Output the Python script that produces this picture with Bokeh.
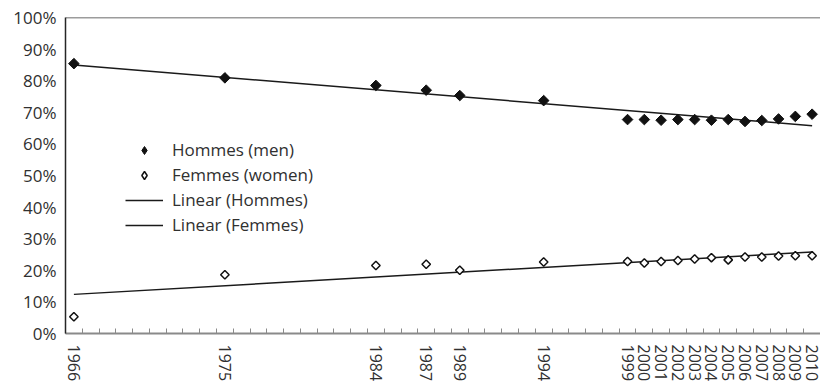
import numpy as np
from bokeh.plotting import figure
from bokeh.models import (FixedTicker, PrintfTickFormatter, Range1d, Span,
                          Legend, LegendItem, BasicTickFormatter)
from bokeh.embed import file_html
from bokeh.resources import INLINE

# Survey years and shares (%) for men and women
years = [1966, 1975, 1984, 1987, 1989, 1994, 1999, 2000, 2001, 2002,
         2003, 2004, 2005, 2006, 2007, 2008, 2009, 2010]
hommes = [85.4, 80.9, 78.5, 77.0, 75.3, 73.7, 67.7, 67.7, 67.5, 67.7,
          67.7, 67.5, 67.7, 67.1, 67.4, 67.9, 68.7, 69.4]
femmes = [5.3, 18.6, 21.5, 21.9, 20.0, 22.6, 22.8, 22.3, 22.8, 23.1,
          23.6, 24.0, 23.3, 24.2, 24.2, 24.5, 24.6, 24.6]
y_ticks = [0, 10, 20, 30, 40, 50, 60, 70, 80, 90, 100]

FONT = "Open Sans"
TXT = "#303030"
INK = "#111111"

first, last = years[0], years[-1]

p = figure(width=820, height=385, output_backend="svg", toolbar_location=None,
           x_range=Range1d(first - 0.5, last + 0.5), y_range=Range1d(0, 100),
           min_border_left=65, min_border_right=0, min_border_top=17,
           min_border_bottom=52)
p.outline_line_color = None
p.grid.grid_line_color = None
p.background_fill_color = "white"

# Linear trend lines fitted on each series
xs = np.array(years, dtype=float)
fit_h = np.polyfit(xs, np.array(hommes), 1)
fit_f = np.polyfit(xs, np.array(femmes), 1)
tx = np.array([first, last], dtype=float)
lin_h = p.line(tx, np.polyval(fit_h, tx), line_color="#1a1a1a", line_width=1.5)
lin_f = p.line(tx, np.polyval(fit_f, tx), line_color="#1a1a1a", line_width=1.5)

# Diamond renderers that provide the legend swatches (legend markers are
# never rotated); they sit hidden underneath the plotted points
key_h = p.scatter(years, hommes, marker="diamond", size=1, fill_color=INK,
                  line_color=INK, line_width=1)
key_f = p.scatter(years, femmes, marker="diamond", size=1, fill_color="white",
                  line_color=INK, line_width=1.5)

# Data points: squares turned 45 degrees
p.scatter(years, hommes, marker="square", angle=np.pi / 4, size=7.5,
          fill_color=INK, line_color=INK, line_width=1)
p.scatter(years, femmes, marker="square", angle=np.pi / 4, size=6,
          fill_color="white", line_color=INK, line_width=1.5)

# Top frame edge
p.add_layout(Span(location=100, dimension="width", line_color="#3a3a3a",
                  line_width=1.5))

# X axis: labels at survey years, small inside ticks between every year
xa = p.xaxis[0]
xa.ticker = FixedTicker(ticks=years,
                        minor_ticks=[y - 0.5 for y in range(first, last + 2)])
xa.formatter = BasicTickFormatter(use_scientific=False)
xa.major_tick_in = 0
xa.major_tick_out = 0
xa.minor_tick_in = 5
xa.minor_tick_out = 0
xa.minor_tick_line_color = "#8a8a8a"
xa.minor_tick_line_width = 1
xa.axis_line_color = "#8a8a8a"
xa.axis_line_width = 2
xa.major_label_orientation = "vertical"
xa.major_label_standoff = 11
xa.major_label_text_font = FONT
xa.major_label_text_font_size = "16px"
xa.major_label_text_color = TXT

ya = p.yaxis[0]
ya.ticker = FixedTicker(ticks=y_ticks)
ya.formatter = PrintfTickFormatter(format="%d%%")
ya.major_tick_in = 0
ya.major_tick_out = 0
ya.minor_tick_in = 0
ya.minor_tick_out = 0
ya.axis_line_color = "#262626"
ya.axis_line_width = 1.5
ya.major_label_standoff = 9
ya.major_label_text_font = FONT
ya.major_label_text_font_size = "17px"
ya.major_label_text_color = TXT

legend = Legend(items=[
    LegendItem(label="Hommes (men)", renderers=[key_h]),
    LegendItem(label="Femmes (women)", renderers=[key_f]),
    LegendItem(label="Linear (Hommes)", renderers=[lin_h]),
    LegendItem(label="Linear (Femmes)", renderers=[lin_f]),
], location=(60, 97), padding=0, margin=0, spacing=2,
    glyph_width=38, glyph_height=20, label_height=20, label_standoff=9,
    label_text_font=FONT, label_text_font_size="17px", label_text_color=TXT,
    background_fill_alpha=0, border_line_color=None)
p.add_layout(legend)

open("out.html", "w").write(file_html(p, INLINE))
